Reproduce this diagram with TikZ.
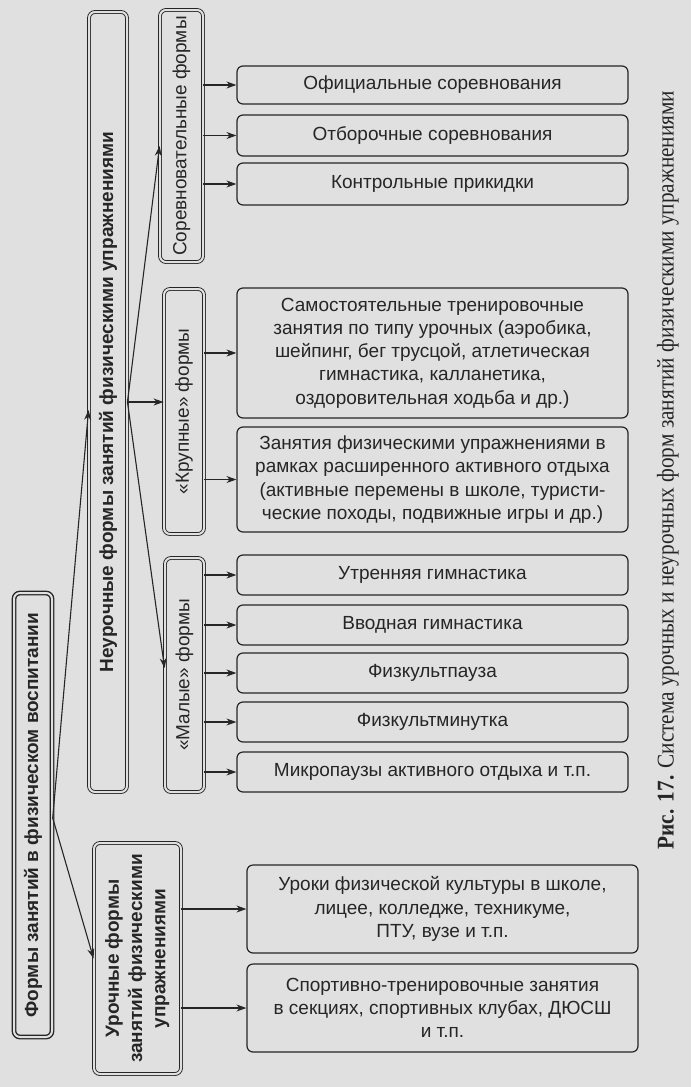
\documentclass[tikz,border=0pt]{standalone}
\usepackage{fontspec}
\setmainfont{Liberation Sans}
\newfontfamily\capfont{Liberation Serif}
\usetikzlibrary{arrows.meta}
\definecolor{bgc}{RGB}{224,224,224}
\definecolor{ink}{RGB}{38,38,38}
\begin{document}
\begin{tikzpicture}[x=1pt,y=-1pt,
  every node/.style={text=ink, font=\fontsize{19}{23.3}\selectfont},
  rbox/.style={draw=ink, line width=1.2pt, rounded corners=6pt, inner sep=0pt, align=center},
  lbox/.style={draw=ink, line width=0.9pt, double=bgc, double distance=2pt, rounded corners=6pt, inner sep=0pt},
  obox/.style={lbox, line width=1.4pt},
  arr/.style={draw=ink, line width=1.1pt, -{Stealth[length=10pt,width=7pt]}}]
\fill[bgc] (0,0) rectangle (691,1087);
\useasboundingbox (0,0) rectangle (691,1087);

% left column
\node[obox, minimum width=38pt, minimum height=444pt] (forms) at (33,815)
  {\rotatebox{90}{\bfseries Формы занятий в физическом воспитании}};
\node[lbox, minimum width=38pt, minimum height=780pt] (neur) at (108,402)
  {\rotatebox{90}{\bfseries Неурочные формы занятий физическими упражнениями}};
\node[lbox, minimum width=87pt, minimum height=231pt] (uroch) at (137.5,958.5)
  {\rotatebox{90}{\begin{tabular}{@{}c@{}}\bfseries Урочные формы\\ \bfseries занятий физическими\\ \bfseries упражнениями\end{tabular}}};

% middle column
\node[lbox, minimum width=43pt, minimum height=252pt] (sorev) at (181.5,136)
  {\rotatebox{90}{Соревновательные формы}};
\node[lbox, minimum width=40pt, minimum height=245pt] (krup) at (184,411.5)
  {\rotatebox{90}{«Крупные» формы}};
\node[lbox, minimum width=39pt, minimum height=234pt] (mal) at (184.5,675)
  {\rotatebox{90}{«Малые» формы}};

% right column
\node[rbox, minimum width=391pt, minimum height=38pt] (r1) at (432.5,85) {Официальные соревнования};
\node[rbox, minimum width=391pt, minimum height=41pt] (r2) at (432.5,135.5) {Отборочные соревнования};
\node[rbox, minimum width=391pt, minimum height=42pt] (r3) at (432.5,184) {Контрольные прикидки};
\node[rbox, minimum width=391pt, minimum height=130pt] (r4) at (432.5,353)
  {Самостоятельные тренировочные\\занятия по типу урочных (аэробика,\\шейпинг, бег трусцой, атлетическая\\гимнастика, калланетика,\\оздоровительная ходьба и др.)};
\node[rbox, minimum width=391pt, minimum height=105pt] (r5) at (432.5,479.5)
  {Занятия физическими упражнениями в\\рамках расширенного активного отдыха\\(активные перемены в школе, туристи-\\ческие походы, подвижные игры и др.)};
\node[rbox, minimum width=391pt, minimum height=40pt] (r6) at (432.5,575) {Утренняя гимнастика};
\node[rbox, minimum width=391pt, minimum height=40pt] (r7) at (432.5,625) {Вводная гимнастика};
\node[rbox, minimum width=391pt, minimum height=40pt] (r8) at (432.5,673) {Физкультпауза};
\node[rbox, minimum width=391pt, minimum height=40pt] (r9) at (432.5,722) {Физкультминутка};
\node[rbox, minimum width=391pt, minimum height=40pt] (r10) at (432.5,772) {Микропаузы активного отдыха и т.п.};
\node[rbox, minimum width=391pt, minimum height=88pt] (r11) at (442.5,909)
  {Уроки физической культуры в школе,\\лицее, колледже, техникуме,\\ПТУ, вузе и т.п.};
\node[rbox, minimum width=391pt, minimum height=88pt] (r12) at (442.5,1008)
  {Спортивно-тренировочные занятия\\в секциях, спортивных клубах, ДЮСШ\\и т.п.};

% caption
\node[rotate=90, font=\capfont\fontsize{24}{28}\selectfont] (cap) at (668,470)
  {\scalebox{0.886}[1]{\textbf{Рис. 17.} Система урочных и неурочных форм занятий физическими упражнениями}};

% connectors
\draw[arr] ([yshift=-3pt]forms.east) -- ([yshift=-8pt]neur.west);
\draw[arr] ([yshift=-3pt]forms.east) -- (uroch.west);
\draw[arr] (neur.east) -- ([yshift=-10pt]sorev.west);
\draw[arr] (neur.east) -- (neur.east -| krup.west);
\draw[arr] (neur.east) -- ([yshift=7pt]mal.west);
\foreach \r in {r1,r2,r3}{\draw[arr] (sorev.east |- \r) -- (\r.west);}
\foreach \r in {r4,r5}{\draw[arr] (krup.east |- \r) -- (\r.west);}
\foreach \r in {r6,r7,r8,r9,r10}{\draw[arr] (mal.east |- \r) -- (\r.west);}
\foreach \r in {r11,r12}{\draw[arr] (uroch.east |- \r) -- (\r.west);}
\end{tikzpicture}
\end{document}
